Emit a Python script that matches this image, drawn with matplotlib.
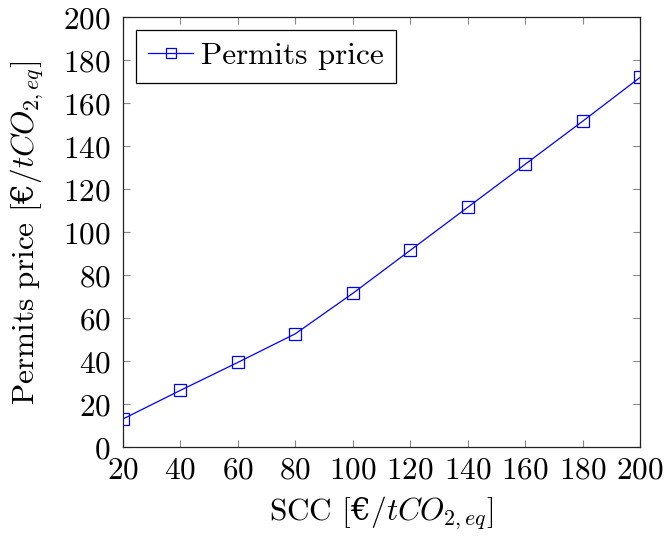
import numpy as np
import matplotlib
matplotlib.use("Agg")
import matplotlib.pyplot as plt

# Data
scc = [20, 40, 60, 80, 100, 120, 140, 160, 180, 200]
permits_price = [13.2, 26.5, 39.5, 52.8, 71.6, 91.6, 111.6, 131.6, 151.6, 172.0]

plt.rcParams['font.family'] = ['cmr10', 'DejaVu Serif']
plt.rcParams['mathtext.fontset'] = 'custom'
plt.rcParams['mathtext.rm'] = 'cmr10'
plt.rcParams['mathtext.it'] = 'cmmi10'
plt.rcParams['mathtext.sf'] = 'DejaVu Serif'
plt.rcParams['axes.formatter.use_mathtext'] = True

fontl = 22.5

fig = plt.figure(figsize=(6.66, 5.37), dpi=100)
ax = fig.add_axes([0.1847, 0.167, 0.9610 - 0.1847, 0.968 - 0.167])

ax.plot(scc, permits_price, '-s', color='#0000ff', lw=0.9, markersize=8,
        fillstyle='none', markeredgewidth=0.9, label='Permits price')

ax.set_xlim(20, 200)
ax.set_ylim(0, 200)
ax.set_xticks(np.arange(20, 201, 20))
ax.set_yticks(np.arange(0, 201, 20))
ax.tick_params(axis='both', which='major', direction='in', top=True, right=True,
               length=5, width=0.8, color='#888888', labelsize=fontl)
ax.tick_params(axis='y', pad=9)
ax.tick_params(axis='x', pad=7)
for sp in ax.spines.values():
    sp.set_linewidth(0.9)
    sp.set_color('#222222')

unit = r'[$\mathsf{€}/tCO_{2,eq}$]'
ax.set_xlabel('SCC ' + unit, fontsize=fontl, labelpad=7)
ax.set_ylabel('Permits price ' + unit, fontsize=fontl, labelpad=12)

leg = ax.legend(loc='upper left', fontsize=fontl, fancybox=False, framealpha=1,
                edgecolor='black', handlelength=1.45, handletextpad=0.25,
                borderpad=0.4, borderaxespad=0.4, markerscale=0.9)
leg.get_frame().set_linewidth(0.9)

fig.savefig('out.png', dpi=100)
plt.close(fig)
